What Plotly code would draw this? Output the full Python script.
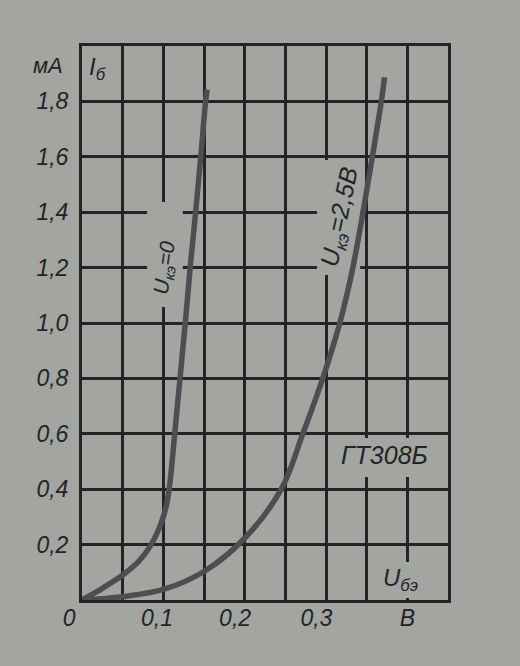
import plotly.graph_objects as go

# ---- data ----
u_be_uke0 = [0, 0.025, 0.05, 0.07, 0.085, 0.095, 0.101, 0.105, 0.108, 0.114, 0.1205, 0.127, 0.133, 0.1397, 0.146, 0.152, 0.154]
i_b_uke0 = [0, 0.042, 0.09, 0.14, 0.2, 0.26, 0.31, 0.36, 0.42, 0.6, 0.8, 1.0, 1.2, 1.4, 1.6, 1.8, 1.843]

u_be_uke25 = [0, 0.05, 0.1, 0.15, 0.2, 0.245, 0.2715, 0.296, 0.317, 0.333, 0.3455, 0.357, 0.368, 0.372]
i_b_uke25 = [0, 0.012, 0.038, 0.103, 0.223, 0.4, 0.6, 0.8, 1.0, 1.2, 1.4, 1.6, 1.8, 1.887]

NB = "\u00a0"
x_tickvals = [0, 0.05, 0.1, 0.15, 0.2, 0.25, 0.3, 0.35, 0.4, 0.45]
x_ticktext = ["0" + NB * 4, "", "0,1" + NB * 2, "", "0,2" + NB * 3, "", "0,3" + NB * 3, "", "В", ""]
y_tickvals = [0, 0.2, 0.4, 0.6, 0.8, 1.0, 1.2, 1.4, 1.6, 1.8, 2.0]
y_ticktext = ["", "0,2", "0,4", "0,6", "0,8", "1,0", "1,2", "1,4", "1,6", "1,8", ""]

PAPER = "#a3a5a1"
INK = "#222428"
CURVE = "#4c4e52"
FONT = "Liberation Sans"

fig = go.Figure()
for xs, ys in [(u_be_uke0, i_b_uke0), (u_be_uke25, i_b_uke25)]:
    fig.add_trace(go.Scatter(x=xs, y=ys, mode="lines",
                             line=dict(color=CURVE, width=5.5, shape="spline", smoothing=1.0),
                             showlegend=False, hoverinfo="skip"))

# gaps in the grid around the inscriptions
gaps = [
    (0.080, 0.124, 1.058, 1.437),
    (0.289, 0.342, 1.173, 1.588),
    (0.305, 0.440, 0.444, 0.585),
    (0.357, 0.425, 0.007, 0.137),
]
for x0, x1, y0, y1 in gaps:
    fig.add_shape(type="rect", x0=x0, x1=x1, y0=y0, y1=y1, layer="between",
                  fillcolor=PAPER, line=dict(width=0))

def ann(text, x, y, angle=0, size=20, xref="x", yref="y"):
    fig.add_annotation(text=text, x=x, y=y, xref=xref, yref=yref, showarrow=False,
                       xanchor="center", yanchor="middle", textangle=angle,
                       font=dict(family=FONT, size=size, color=INK, style="italic"))

ann("мА", -0.093, 0.964, size=22, xref="paper", yref="paper")
ann("I<sub>б</sub>", 0.019, 1.92, size=24)
ann("U<sub>кэ</sub>=0", 0.102, 1.20, angle=-82, size=21)
ann("U<sub>кэ</sub>=2,5В", 0.318, 1.383, angle=-78, size=25)
ann("ГТ308Б", 0.372, 0.523, size=25)
ann("U<sub>бэ</sub>", 0.392, 0.075, size=24)

tfont = dict(family=FONT, size=23, color=INK, style="italic")
axis_common = dict(showgrid=True, gridcolor=INK, gridwidth=3, zeroline=False,
                   showline=True, linecolor=INK, linewidth=3, mirror=True,
                   ticks="", tickfont=tfont)
fig.update_xaxes(range=[0, 0.45], tickmode="array", tickvals=x_tickvals, ticktext=x_ticktext,
                 ticklabelstandoff=-5, **axis_common)
fig.update_yaxes(range=[0, 2.0], tickmode="array", tickvals=y_tickvals, ticktext=y_ticktext,
                 ticklabelstandoff=6, **axis_common)

fig.update_layout(width=520, height=666, paper_bgcolor=PAPER, plot_bgcolor=PAPER,
                  margin=dict(l=82, r=72, t=46, b=66), showlegend=False)
fig.write_html("out.html", config={"displayModeBar": False},
               post_script="document.body.style.margin='0';document.body.style.background='%s';" % PAPER)
